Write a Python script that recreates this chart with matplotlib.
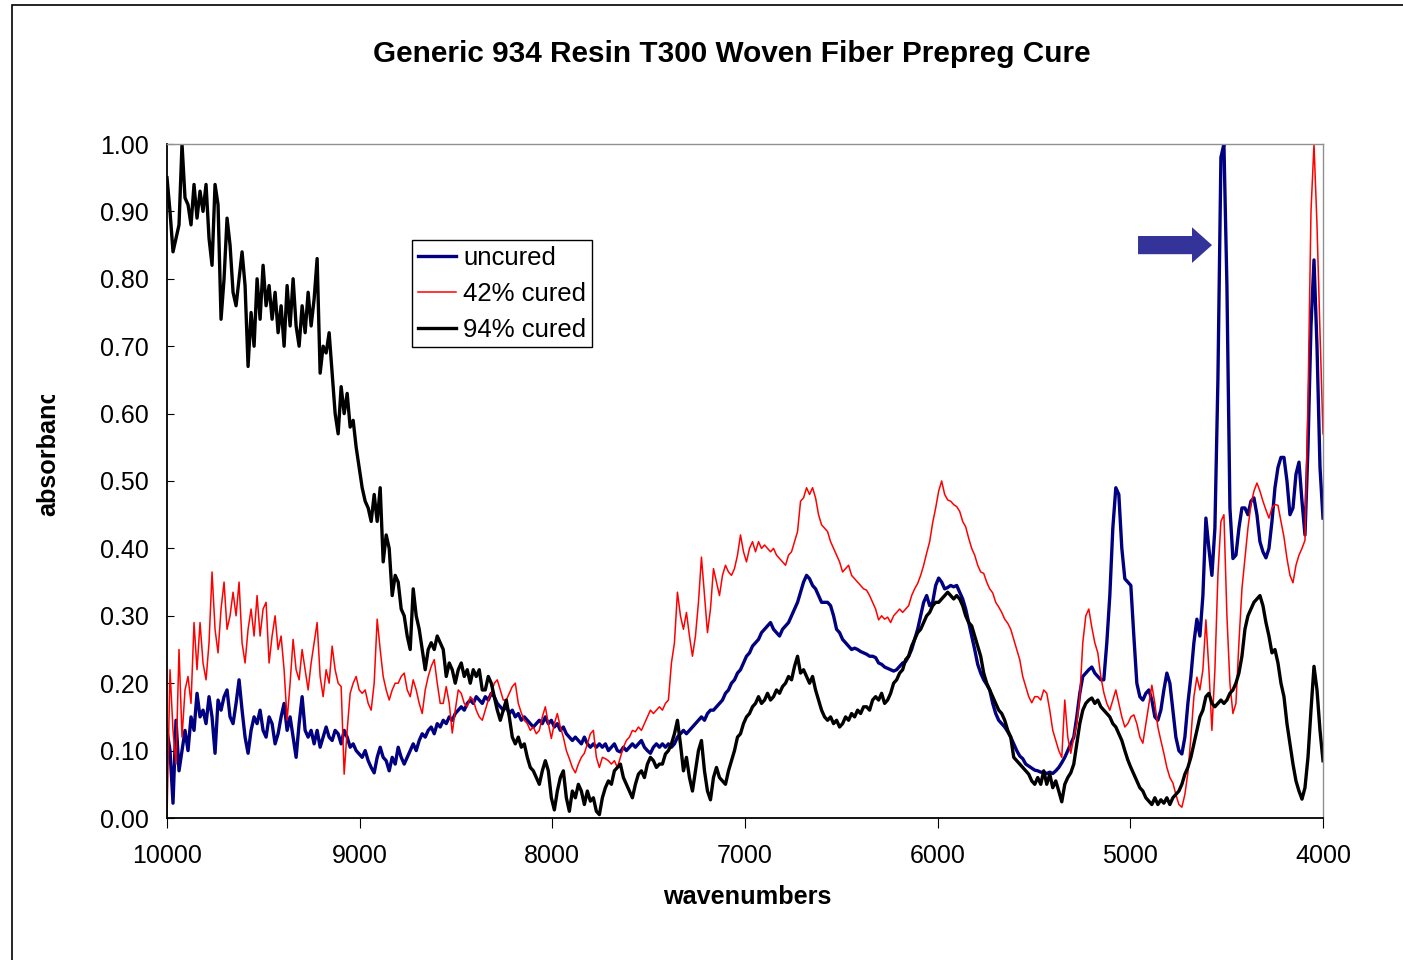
import numpy as np
from matplotlib import pyplot as plt
from matplotlib.patches import FancyArrow, Rectangle
from matplotlib.transforms import Bbox

# NIR spectra of generic 934 resin / T300 woven prepreg
# sampled on a common wavenumber grid (10000 -> 4000 cm-1, 386 points)
wn = np.linspace(10000, 4000, 386)

uncured = [
    0.13, 0.10, 0.022, 0.145, 0.07, 0.10, 0.13, 0.10, 0.15, 0.13,
    0.185, 0.15, 0.16, 0.14, 0.18, 0.15, 0.096, 0.175, 0.16, 0.18,
    0.19, 0.15, 0.14, 0.17, 0.205, 0.16, 0.12, 0.096, 0.13, 0.15,
    0.14, 0.16, 0.13, 0.12, 0.15, 0.14, 0.11, 0.125, 0.15, 0.17,
    0.13, 0.15, 0.12, 0.09, 0.14, 0.18, 0.13, 0.12, 0.13, 0.11,
    0.13, 0.105, 0.12, 0.135, 0.12, 0.115, 0.13, 0.125, 0.11, 0.13,
    0.12, 0.105, 0.11, 0.10, 0.095, 0.09, 0.10, 0.085, 0.075, 0.067,
    0.09, 0.105, 0.09, 0.085, 0.07, 0.09, 0.08, 0.105, 0.09, 0.08,
    0.09, 0.10, 0.11, 0.10, 0.115, 0.125, 0.12, 0.13, 0.135, 0.125,
    0.14, 0.135, 0.145, 0.14, 0.15, 0.145, 0.155, 0.16, 0.165, 0.16,
    0.17, 0.175, 0.17, 0.18, 0.175, 0.17, 0.18, 0.175, 0.185, 0.18,
    0.17, 0.165, 0.16, 0.165, 0.155, 0.16, 0.15, 0.155, 0.145, 0.15,
    0.145, 0.14, 0.135, 0.14, 0.145, 0.14, 0.15, 0.14, 0.145, 0.135,
    0.14, 0.13, 0.135, 0.125, 0.12, 0.115, 0.12, 0.115, 0.11, 0.12,
    0.11, 0.105, 0.11, 0.105, 0.11, 0.105, 0.11, 0.10, 0.105, 0.11,
    0.10, 0.098, 0.105, 0.10, 0.105, 0.11, 0.105, 0.11, 0.115, 0.105,
    0.10, 0.096, 0.105, 0.11, 0.105, 0.11, 0.105, 0.11, 0.105, 0.11,
    0.12, 0.125, 0.13, 0.125, 0.13, 0.135, 0.14, 0.145, 0.15, 0.145,
    0.155, 0.16, 0.16, 0.165, 0.17, 0.175, 0.185, 0.19, 0.20, 0.205,
    0.215, 0.22, 0.23, 0.24, 0.245, 0.255, 0.26, 0.265, 0.275, 0.28,
    0.285, 0.29, 0.28, 0.275, 0.27, 0.28, 0.285, 0.29, 0.30, 0.31,
    0.32, 0.335, 0.35, 0.36, 0.355, 0.345, 0.34, 0.33, 0.32, 0.32,
    0.32, 0.315, 0.30, 0.28, 0.275, 0.265, 0.26, 0.255, 0.25, 0.252,
    0.25, 0.247, 0.245, 0.243, 0.24, 0.24, 0.238, 0.23, 0.228, 0.224,
    0.222, 0.22, 0.218, 0.22, 0.225, 0.23, 0.232, 0.24, 0.25, 0.265,
    0.28, 0.30, 0.32, 0.33, 0.315, 0.32, 0.345, 0.356, 0.35, 0.34,
    0.342, 0.345, 0.343, 0.345, 0.335, 0.325, 0.31, 0.29, 0.27, 0.25,
    0.228, 0.215, 0.205, 0.198, 0.19, 0.17, 0.155, 0.145, 0.14, 0.135,
    0.128, 0.12, 0.11, 0.10, 0.092, 0.088, 0.08, 0.077, 0.074, 0.071,
    0.07, 0.068, 0.068, 0.066, 0.068, 0.066, 0.07, 0.075, 0.082, 0.09,
    0.10, 0.11, 0.12, 0.15, 0.185, 0.21, 0.215, 0.22, 0.224, 0.215,
    0.21, 0.205, 0.205, 0.26, 0.33, 0.43, 0.49, 0.48, 0.40, 0.355,
    0.35, 0.345, 0.27, 0.20, 0.18, 0.175, 0.185, 0.19, 0.175, 0.15,
    0.145, 0.16, 0.19, 0.215, 0.20, 0.16, 0.12, 0.10, 0.095, 0.12,
    0.17, 0.21, 0.26, 0.295, 0.27, 0.33, 0.445, 0.40, 0.36, 0.43,
    0.65, 0.98, 1.00, 0.79, 0.46, 0.385, 0.39, 0.43, 0.46, 0.46,
    0.45, 0.47, 0.475, 0.45, 0.41, 0.395, 0.386, 0.40, 0.44, 0.49,
    0.52, 0.535, 0.535, 0.50, 0.45, 0.46, 0.51, 0.528, 0.47, 0.42,
    0.55, 0.73, 0.828, 0.70, 0.52, 0.445,
]

cured42 = [
    0.0, 0.22, 0.13, 0.08, 0.25, 0.12, 0.19, 0.21, 0.17, 0.29,
    0.22, 0.29, 0.23, 0.205, 0.26, 0.365, 0.28, 0.245, 0.31, 0.35,
    0.28, 0.30, 0.335, 0.30, 0.35, 0.26, 0.23, 0.28, 0.31, 0.27,
    0.33, 0.27, 0.31, 0.32, 0.23, 0.27, 0.30, 0.25, 0.27, 0.22,
    0.145, 0.20, 0.265, 0.22, 0.205, 0.25, 0.22, 0.19, 0.23, 0.26,
    0.29, 0.21, 0.18, 0.22, 0.20, 0.255, 0.22, 0.20, 0.195, 0.065,
    0.13, 0.185, 0.20, 0.21, 0.19, 0.185, 0.19, 0.17, 0.16, 0.20,
    0.295, 0.25, 0.21, 0.19, 0.175, 0.19, 0.20, 0.20, 0.21, 0.215,
    0.19, 0.18, 0.205, 0.19, 0.17, 0.155, 0.19, 0.21, 0.225, 0.235,
    0.20, 0.17, 0.17, 0.195, 0.17, 0.126, 0.16, 0.19, 0.185, 0.17,
    0.165, 0.18, 0.175, 0.16, 0.15, 0.145, 0.16, 0.175, 0.185, 0.20,
    0.205, 0.19, 0.175, 0.175, 0.185, 0.195, 0.20, 0.17, 0.156, 0.145,
    0.14, 0.13, 0.135, 0.125, 0.13, 0.15, 0.165, 0.14, 0.118, 0.14,
    0.155, 0.135, 0.12, 0.10, 0.088, 0.075, 0.067, 0.08, 0.09, 0.096,
    0.11, 0.125, 0.13, 0.09, 0.075, 0.09, 0.088, 0.085, 0.08, 0.085,
    0.075, 0.09, 0.105, 0.115, 0.12, 0.13, 0.128, 0.135, 0.13, 0.14,
    0.15, 0.16, 0.155, 0.16, 0.165, 0.16, 0.17, 0.175, 0.23, 0.26,
    0.335, 0.30, 0.28, 0.305, 0.27, 0.24, 0.27, 0.32, 0.387, 0.33,
    0.275, 0.31, 0.37, 0.35, 0.33, 0.36, 0.375, 0.365, 0.36, 0.37,
    0.39, 0.42, 0.395, 0.38, 0.40, 0.41, 0.395, 0.41, 0.40, 0.405,
    0.40, 0.395, 0.40, 0.39, 0.385, 0.38, 0.375, 0.39, 0.395, 0.41,
    0.425, 0.47, 0.475, 0.49, 0.48, 0.49, 0.475, 0.45, 0.435, 0.43,
    0.425, 0.41, 0.40, 0.39, 0.38, 0.365, 0.37, 0.375, 0.36, 0.355,
    0.35, 0.345, 0.34, 0.338, 0.33, 0.32, 0.31, 0.294, 0.30, 0.295,
    0.298, 0.29, 0.30, 0.305, 0.31, 0.305, 0.31, 0.315, 0.33, 0.34,
    0.348, 0.36, 0.375, 0.393, 0.41, 0.438, 0.46, 0.485, 0.50, 0.48,
    0.472, 0.47, 0.465, 0.462, 0.455, 0.44, 0.432, 0.415, 0.40, 0.39,
    0.375, 0.365, 0.363, 0.35, 0.34, 0.334, 0.32, 0.313, 0.305, 0.295,
    0.289, 0.28, 0.265, 0.25, 0.235, 0.21, 0.195, 0.18, 0.171, 0.18,
    0.18, 0.175, 0.19, 0.185, 0.16, 0.13, 0.115, 0.10, 0.09, 0.175,
    0.12, 0.096, 0.12, 0.14, 0.18, 0.26, 0.30, 0.31, 0.283, 0.26,
    0.245, 0.21, 0.186, 0.17, 0.16, 0.175, 0.19, 0.17, 0.15, 0.135,
    0.14, 0.15, 0.153, 0.14, 0.12, 0.111, 0.14, 0.17, 0.197, 0.17,
    0.135, 0.115, 0.096, 0.075, 0.06, 0.052, 0.035, 0.02, 0.016, 0.035,
    0.067, 0.12, 0.18, 0.209, 0.19, 0.22, 0.294, 0.22, 0.13, 0.22,
    0.36, 0.44, 0.45, 0.30, 0.20, 0.155, 0.17, 0.26, 0.34, 0.385,
    0.43, 0.465, 0.485, 0.497, 0.485, 0.47, 0.457, 0.445, 0.46, 0.465,
    0.464, 0.44, 0.417, 0.385, 0.36, 0.349, 0.375, 0.39, 0.40, 0.412,
    0.62, 0.90, 1.00, 0.88, 0.72, 0.57,
]

cured94 = [
    0.95, 0.90, 0.84, 0.86, 0.88, 1.00, 0.92, 0.91, 0.88, 0.94,
    0.89, 0.93, 0.90, 0.94, 0.86, 0.82, 0.94, 0.91, 0.74, 0.80,
    0.89, 0.85, 0.78, 0.76, 0.80, 0.84, 0.79, 0.67, 0.75, 0.70,
    0.80, 0.74, 0.82, 0.76, 0.79, 0.74, 0.78, 0.72, 0.76, 0.70,
    0.79, 0.73, 0.80, 0.73, 0.70, 0.76, 0.72, 0.78, 0.73, 0.77,
    0.83, 0.66, 0.70, 0.69, 0.72, 0.66, 0.60, 0.57, 0.64, 0.60,
    0.63, 0.58, 0.59, 0.55, 0.52, 0.49, 0.47, 0.46, 0.44, 0.48,
    0.44, 0.49, 0.38, 0.42, 0.40, 0.33, 0.36, 0.35, 0.31, 0.30,
    0.27, 0.25, 0.34, 0.30, 0.28, 0.25, 0.22, 0.25, 0.26, 0.25,
    0.27, 0.26, 0.25, 0.21, 0.23, 0.22, 0.20, 0.22, 0.23, 0.21,
    0.22, 0.20, 0.22, 0.21, 0.22, 0.19, 0.19, 0.21, 0.20, 0.18,
    0.16, 0.145, 0.16, 0.175, 0.15, 0.12, 0.11, 0.12, 0.105, 0.11,
    0.09, 0.075, 0.07, 0.06, 0.05, 0.07, 0.085, 0.07, 0.03, 0.012,
    0.04, 0.06, 0.07, 0.03, 0.01, 0.04, 0.03, 0.05, 0.04, 0.02,
    0.04, 0.025, 0.03, 0.01, 0.005, 0.03, 0.045, 0.055, 0.05, 0.07,
    0.075, 0.08, 0.06, 0.05, 0.04, 0.03, 0.05, 0.065, 0.07, 0.06,
    0.08, 0.09, 0.085, 0.075, 0.08, 0.08, 0.095, 0.10, 0.11, 0.125,
    0.145, 0.11, 0.07, 0.09, 0.06, 0.04, 0.07, 0.10, 0.115, 0.07,
    0.04, 0.027, 0.06, 0.075, 0.06, 0.055, 0.05, 0.07, 0.085, 0.10,
    0.12, 0.125, 0.14, 0.15, 0.155, 0.165, 0.17, 0.18, 0.17, 0.175,
    0.185, 0.175, 0.18, 0.19, 0.185, 0.195, 0.20, 0.21, 0.205, 0.225,
    0.24, 0.215, 0.22, 0.21, 0.20, 0.21, 0.19, 0.175, 0.16, 0.15,
    0.145, 0.15, 0.14, 0.145, 0.135, 0.14, 0.15, 0.145, 0.155, 0.15,
    0.16, 0.155, 0.165, 0.165, 0.16, 0.175, 0.18, 0.175, 0.185, 0.17,
    0.175, 0.185, 0.20, 0.205, 0.215, 0.22, 0.235, 0.24, 0.255, 0.265,
    0.275, 0.28, 0.29, 0.30, 0.305, 0.315, 0.32, 0.32, 0.325, 0.33,
    0.335, 0.33, 0.325, 0.33, 0.325, 0.315, 0.30, 0.29, 0.285, 0.27,
    0.255, 0.24, 0.215, 0.20, 0.19, 0.18, 0.17, 0.16, 0.155, 0.145,
    0.13, 0.12, 0.09, 0.085, 0.08, 0.075, 0.07, 0.065, 0.055, 0.05,
    0.06, 0.05, 0.07, 0.05, 0.065, 0.045, 0.055, 0.04, 0.024, 0.05,
    0.06, 0.067, 0.08, 0.11, 0.14, 0.16, 0.17, 0.175, 0.178, 0.17,
    0.175, 0.165, 0.16, 0.155, 0.15, 0.14, 0.135, 0.125, 0.115, 0.10,
    0.086, 0.075, 0.065, 0.055, 0.045, 0.04, 0.03, 0.025, 0.02, 0.03,
    0.02, 0.027, 0.022, 0.03, 0.02, 0.03, 0.035, 0.04, 0.05, 0.065,
    0.075, 0.09, 0.11, 0.13, 0.15, 0.16, 0.18, 0.185, 0.17, 0.165,
    0.17, 0.175, 0.17, 0.175, 0.185, 0.19, 0.20, 0.215, 0.24, 0.28,
    0.30, 0.31, 0.32, 0.325, 0.33, 0.315, 0.29, 0.27, 0.245, 0.25,
    0.23, 0.20, 0.18, 0.14, 0.11, 0.08, 0.055, 0.04, 0.028, 0.045,
    0.09, 0.16, 0.225, 0.19, 0.13, 0.085,
]

assert len(uncured) == len(cured42) == len(cured94) == len(wn)

plt.rcParams['font.family'] = ['Liberation Sans', 'DejaVu Sans']

fig = plt.figure(figsize=(14.03, 9.6), dpi=100)
ax = fig.add_axes([167/1403, 1 - 818/960, 1156/1403, 674/960])

ax.plot(wn, uncured, color="#000080", lw=2.4, label="uncured")
ax.plot(wn, cured42, color="#ff0000", lw=1.1, label="42% cured")
ax.plot(wn, cured94, color="black", lw=2.4, label="94% cured")

ax.set_xlim(10000, 4000)
ax.set_ylim(0, 1)
ax.set_xticks(np.arange(10000, 3999, -1000))
ax.set_yticks(np.arange(0, 1.01, 0.1))
ax.set_yticklabels(["%.2f" % v for v in np.arange(0, 1.01, 0.1)])
ax.tick_params(axis="y", direction="in", length=5, pad=13, labelsize=18)
ax.tick_params(axis="x", direction="out", length=7, pad=12, labelsize=18)
for s in ["top", "right"]:
    ax.spines[s].set_color("#909090")
    ax.spines[s].set_linewidth(1.0)
for s in ["left", "bottom"]:
    ax.spines[s].set_linewidth(1.3)

# block arrow pointing at the 4530 cm-1 epoxide band
ax.add_patch(FancyArrow(4960, 0.85, -384, 0, width=0.027, head_width=0.053,
                        head_length=104, length_includes_head=True,
                        color="#333399", lw=0))

leg = ax.legend(loc="upper left", bbox_to_anchor=(412/1403, 1 - 240/960),
                bbox_transform=fig.transFigure, borderaxespad=0, fontsize=18.5,
                fancybox=False, framealpha=1, edgecolor="black",
                handlelength=1.5, handletextpad=0.27, labelspacing=0.47,
                borderpad=0.22)
leg.get_frame().set_linewidth(1.0)

fig.text(732/1403, 1 - 54/960, "Generic 934 Resin T300 Woven Fiber Prepreg Cure",
         ha="center", va="center", fontsize=21.4, fontweight="bold")
fig.text(747/1403, 1 - 897/960, "wavenumbers", ha="center", va="center",
         fontsize=18.2, fontweight="bold")
# y label is cut off at the top in the original
yl = fig.text(48/1403, 1 - 445/960, "absorbance", ha="center", va="center",
              rotation=90, fontsize=18.2, fontweight="bold", clip_on=True)
yl.set_clip_box(Bbox([[0, 0], [1403, 960 - 395]]))

# outer chart border
fig.patches.append(Rectangle((12/1403, -0.05), 1.1, 1 - 5/960 + 0.05,
                             transform=fig.transFigure, fill=False,
                             edgecolor="black", lw=1.2))

plt.savefig("out.png", dpi=100)
